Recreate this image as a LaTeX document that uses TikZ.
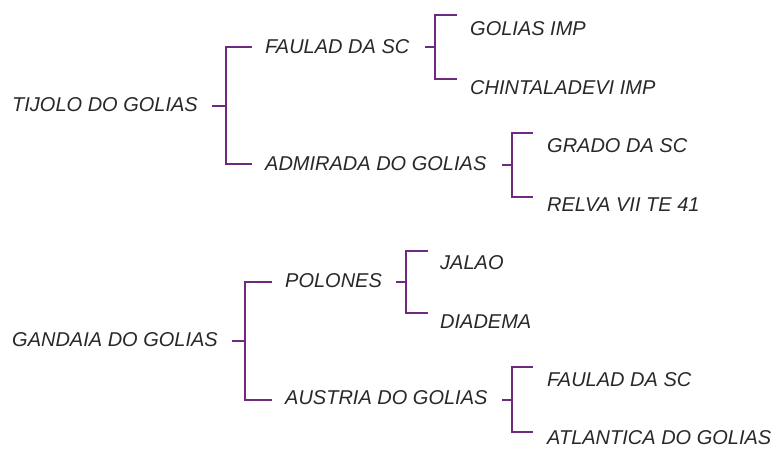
\documentclass[tikz,border=0pt]{standalone}
\usepackage{fontspec}
\setmainfont{Liberation Sans}
\definecolor{brk}{RGB}{110,42,126}
\definecolor{txt}{RGB}{40,40,40}
\begin{document}
\begin{tikzpicture}[x=1pt,y=-1pt,
  lbl/.style={anchor=west,inner sep=0pt,text=txt,font=\fontsize{20}{23}\selectfont\itshape},
  brline/.style={draw=brk,line width=2.5pt}]
\useasboundingbox (0,0) rectangle (774,448);
% texts
\node[lbl] (tij) at (12,105) {TIJOLO DO GOLIAS};
\node[lbl] (fau1) at (265,47) {FAULAD DA SC};
\node[lbl] (gimp) at (470,29) {GOLIAS IMP};
\node[lbl] (chin) at (470,88) {CHINTALADEVI IMP};
\node[lbl] (adm) at (265,164) {ADMIRADA DO GOLIAS};
\node[lbl] (gra) at (547,146) {GRADO DA SC};
\node[lbl] (rel) at (547,205) {RELVA VII TE 41};
\node[lbl] (gan) at (12,340) {GANDAIA DO GOLIAS};
\node[lbl] (pol) at (285,281) {POLONES};
\node[lbl] (jal) at (440,263) {JALAO};
\node[lbl] (dia) at (440,322) {DIADEMA};
\node[lbl] (aus) at (285,398) {AUSTRIA DO GOLIAS};
\node[lbl] (fau2) at (547,380) {FAULAD DA SC};
\node[lbl] (atl) at (547,438) {ATLANTICA DO GOLIAS};
% bracket 1: TIJOLO
\coordinate (s1) at (212,106); \coordinate (j1) at (226,106);
\coordinate (t1) at (252,47); \coordinate (b1) at (252,164);
\draw[brline] (s1) -- (j1);
\draw[brline] (t1) -| (j1) |- (b1);
% bracket 2: FAULAD
\coordinate (s2) at (425,47); \coordinate (j2) at (435,47);
\coordinate (t2) at (457,15); \coordinate (b2) at (457,79);
\draw[brline] (s2) -- (j2);
\draw[brline] (t2) -| (j2) |- (b2);
% bracket 3: ADMIRADA
\coordinate (s3) at (502,165); \coordinate (j3) at (512,165);
\coordinate (t3) at (533,133); \coordinate (b3) at (533,197);
\draw[brline] (s3) -- (j3);
\draw[brline] (t3) -| (j3) |- (b3);
% bracket 4: GANDAIA
\coordinate (s4) at (232,341); \coordinate (j4) at (245,341);
\coordinate (t4) at (272,282); \coordinate (b4) at (272,400);
\draw[brline] (s4) -- (j4);
\draw[brline] (t4) -| (j4) |- (b4);
% bracket 5: POLONES
\coordinate (s5) at (396,282); \coordinate (j5) at (406,282);
\coordinate (t5) at (428,251); \coordinate (b5) at (428,313);
\draw[brline] (s5) -- (j5);
\draw[brline] (t5) -| (j5) |- (b5);
% bracket 6: AUSTRIA
\coordinate (s6) at (502,400); \coordinate (j6) at (512,400);
\coordinate (t6) at (533,367); \coordinate (b6) at (533,432);
\draw[brline] (s6) -- (j6);
\draw[brline] (t6) -| (j6) |- (b6);
\end{tikzpicture}
\end{document}
